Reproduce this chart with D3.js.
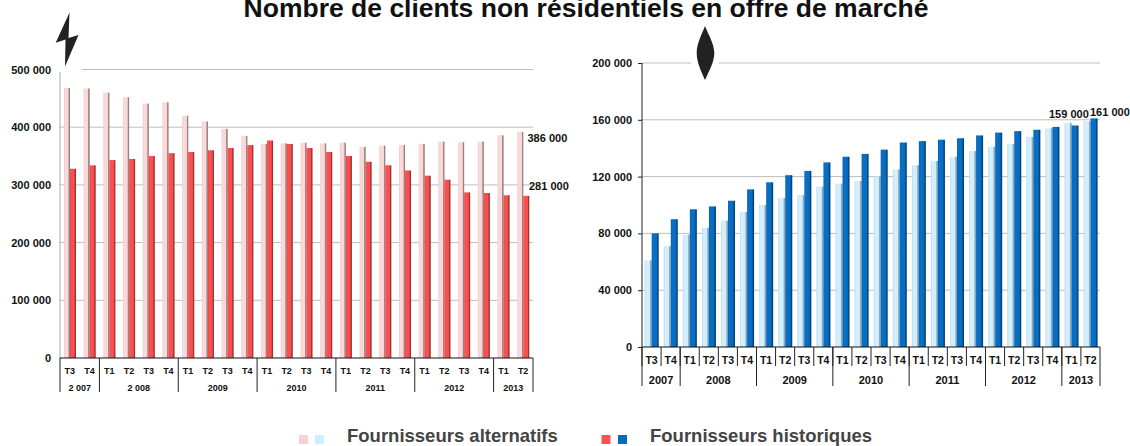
<!DOCTYPE html>
<html>
<head>
<meta charset="utf-8">
<script src="https://cdn.jsdelivr.net/npm/d3@7"></script>
<style>
  html, body { margin: 0; padding: 0; background: #fff; overflow: hidden; }
  svg { display: block; }
  text { font-family: "Liberation Sans", Arial, sans-serif; font-weight: bold; fill: #111; }
</style>
</head>
<body>
<svg id="chart" width="1130" height="446"></svg>
<script>
const quarters = ['T3','T4','T1','T2','T3','T4','T1','T2','T3','T4','T1','T2','T3','T4','T1','T2','T3','T4','T1','T2','T3','T4','T1','T2'];

const elecYears = [['2 007', 2], ['2 008', 4], ['2009', 4], ['2010', 4], ['2011', 4], ['2012', 4], ['2013', 2]];
const gasYears = [['2007', 2], ['2008', 4], ['2009', 4], ['2010', 4], ['2011', 4], ['2012', 4], ['2013', 2]];

const elecAlt = [468000,467000,460000,452000,441000,443000,420000,410000,397000,385000,371000,372000,373000,372000,373000,366000,368000,369000,371000,375000,374000,375000,386000,392000];
const elecHist = [328000,334000,343000,345000,350000,355000,357000,360000,364000,369000,377000,371000,364000,357000,350000,340000,334000,325000,316000,309000,287000,286000,282000,281000];

const gasAlt = [61000,71000,79000,84000,89000,95000,100000,105000,107000,113000,115000,117000,120000,125000,128000,131000,134000,138000,141000,143000,148000,154000,158000,159000];
const gasHist = [80000,90000,97000,99000,103000,111000,116000,121000,124000,130000,134000,136000,139000,144000,145000,146000,147000,149000,151000,152000,153000,155000,156000,161000];

const elecTicks = [0,100000,200000,300000,400000,500000];
const gasTicks = [0,40000,80000,120000,160000,200000];

const svg = d3.select('#chart');
const fmt = d => d3.format(',')(d).replace(/,/g, ' ');
const defs = svg.append('defs');

// horizontal gradient: lit face then dark right edge, like the old 3d bars
function barGradient(id, stops) {
  const g = defs.append('linearGradient').attr('id', id);
  stops.forEach(s => g.append('stop').attr('offset', s[0]).attr('stop-color', s[1]));
}
barGradient('pink', [[0,'#e8c8c8'],[0.2,'#fbdada'],[0.7,'#fbd6d6'],[0.8,'#a58a8a'],[1,'#8f7a7a']]);
barGradient('red', [[0,'#e04848'],[0.2,'#ff5050'],[0.7,'#fb4c4c'],[0.82,'#a83838'],[1,'#8c3030']]);
barGradient('paleblue', [[0,'#b8d8e8'],[0.2,'#d4f0ff'],[0.7,'#cdeeff'],[0.82,'#8eb0c2'],[1,'#7c9bab']]);
barGradient('blue', [[0,'#0a5ea8'],[0.2,'#0870c8'],[0.7,'#066cc0'],[0.85,'#044a84'],[1,'#033a68']]);

function drawPanel(o) {
  const y = d3.scaleLinear().domain(o.domain).range([o.y0, o.y1]);
  const x = d3.scaleBand().domain(d3.range(quarters.length)).range([o.x0, o.x1]);
  const inner = d3.scaleBand().domain(['alt','hist']).range([o.barPad, x.bandwidth() - o.barEnd]);
  const g = svg.append('g');

  // grid
  g.append('g').selectAll('line').data(o.ticks.slice(1)).join('line')
    .attr('x1', o.x0).attr('x2', o.x1)
    .attr('y1', d => y(d)).attr('y2', d => y(d))
    .attr('stroke', '#bdbdbd').attr('stroke-width', 1);

  // bars
  [['alt', o.alt, o.colors[0]], ['hist', o.hist, o.colors[1]]].forEach(s => {
    g.append('g').selectAll('rect').data(s[1]).join('rect')
      .attr('x', (d, i) => x(i) + inner(s[0]))
      .attr('y', d => y(d))
      .attr('width', inner.bandwidth())
      .attr('height', d => y(0) - y(d))
      .attr('fill', 'url(#' + s[2] + ')');
  });

  // white knockout behind the energy icon
  g.append('rect').attr('x', o.gap[0]).attr('y', o.y1 - 4).attr('width', o.gap[1] - o.gap[0]).attr('height', 6).attr('fill', '#fff');

  // value axis
  const axis = d3.axisLeft(y).tickValues(o.ticks).tickFormat(fmt).tickSize(o.tickLen).tickPadding(o.tickPad);
  const ag = g.append('g').attr('transform', 'translate(' + o.x0 + ',0)').call(axis);
  ag.select('.domain').attr('stroke', o.axisColor).attr('d', 'M0,' + o.y0 + 'V' + o.axisTop);
  ag.selectAll('.tick line').attr('stroke', '#222');
  ag.selectAll('text').attr('font-size', o.valueFont).style('fill', '#111');

  // baseline and multi level category axis
  g.append('line').attr('x1', o.x0).attr('x2', o.x1).attr('y1', o.y0).attr('y2', o.y0)
    .attr('stroke', '#111').attr('stroke-width', 1);

  g.append('g').selectAll('text').data(quarters).join('text')
    .attr('x', (d, i) => x(i) + x.bandwidth() / 2)
    .attr('y', o.y0 + o.quarterDy)
    .attr('text-anchor', 'middle').attr('font-size', o.catFont).text(d => d);

  if (o.quarterTicks) {
    g.append('g').selectAll('line').data(d3.range(quarters.length)).join('line')
      .attr('x1', i => x(i)).attr('x2', i => x(i))
      .attr('y1', o.y0).attr('y2', o.y0 + o.quarterTicks)
      .attr('stroke', '#222');
  }

  let start = 0;
  const edges = [0];
  o.years.forEach(yr => {
    const a = x(start), b = x(start) + yr[1] * x.bandwidth();
    g.append('text').attr('x', (a + b) / 2).attr('y', o.y0 + o.yearDy)
      .attr('text-anchor', 'middle').attr('font-size', o.yearFont).text(yr[0]);
    start += yr[1];
    edges.push(start);
  });
  g.append('g').selectAll('line').data(edges).join('line')
    .attr('x1', i => o.x0 + i * x.bandwidth()).attr('x2', i => o.x0 + i * x.bandwidth())
    .attr('y1', o.y0).attr('y2', o.y0 + o.sepLen)
    .attr('stroke', '#222');

  // value labels
  o.labels.forEach(l => {
    g.append('text').attr('x', l[1]).attr('y', y(l[0]) + l[2])
      .attr('font-size', o.labelFont).text(fmt(l[0]));
  });
}

drawPanel({
  x0: 60, x1: 533, y0: 358, y1: 69.5, axisTop: 72, domain: [0, 500000],
  ticks: elecTicks, alt: elecAlt, hist: elecHist, colors: ['pink', 'red'],
  years: elecYears, barPad: 4, barEnd: 3.7, tickLen: 0, tickPad: 9, axisColor: '#aaa',
  valueFont: 11, catFont: 9, yearFont: 9, quarterDy: 16, yearDy: 32.5, sepLen: 34, quarterTicks: 0,
  gap: [58, 82], labelFont: 11,
  labels: [[386000, 527.5, 6.4], [281000, 529, -6]]
});

drawPanel({
  x0: 642, x1: 1100, y0: 347, y1: 63, axisTop: 63, domain: [0, 200000],
  ticks: gasTicks, alt: gasAlt, hist: gasHist, colors: ['paleblue', 'blue'],
  years: gasYears, barPad: 2.7, barEnd: 2.4, tickLen: 4, tickPad: 6, axisColor: '#222',
  valueFont: 11, catFont: 10.5, yearFont: 11, quarterDy: 17, yearDy: 36.5, sepLen: 39, quarterTicks: 19,
  gap: [691, 719], labelFont: 11,
  labels: [[159000, 1049, -3], [161000, 1090, -2.4]]
});

// energy icons
svg.append('path').attr('d', 'M69.5,12.5 L55.7,42.7 L65.5,39.5 L65,66.5 L78.5,35 L68.5,38 Z').attr('fill', '#222');
svg.append('path').attr('d', 'M705,26 C701,36 696.7,44 696.7,53 C696.7,62 701,71 705,80 C709,71 714.3,62 714.3,53 C714.3,44 709,36 705,26 Z').attr('fill', '#222');

// title, clipped by the top edge as in the source picture
svg.append('text').attr('x', 586).attr('y', 17).attr('text-anchor', 'middle').attr('font-size', 26.5)
  .text('Nombre de clients non résidentiels en offre de marché');

// legend
const legendItems = [
  { label: 'Fournisseurs alternatifs', swatches: [[299, '#fbd0d0'], [315, '#cdeeff']], tx: 347 },
  { label: 'Fournisseurs historiques', swatches: [[601.5, '#ff5050'], [618, '#066cc0']], tx: 650 }
];
const leg = svg.append('g').selectAll('g').data(legendItems).join('g');
leg.selectAll('rect').data(d => d.swatches).join('rect')
  .attr('x', d => d[0]).attr('y', 435).attr('width', 9).attr('height', 9).attr('fill', d => d[1]);
leg.append('text').attr('x', d => d.tx).attr('y', 442).attr('font-size', 18.5).style('fill', '#444').text(d => d.label);
</script>
</body>
</html>
